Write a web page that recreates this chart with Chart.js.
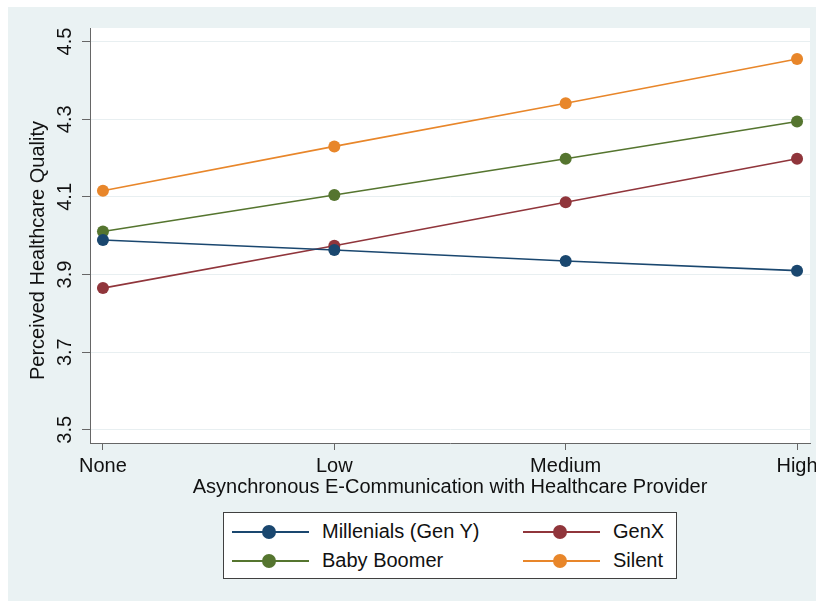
<!DOCTYPE html>
<html>
<head>
<meta charset="utf-8">
<script src="https://cdn.jsdelivr.net/npm/chart.js@4"></script>
<style>
  html, body { margin: 0; padding: 0; background: #fff; }
  #frame { position: absolute; left: 8px; top: 7px; width: 808px; height: 594px; background: #eaf2f3; }
  #chart-wrap { position: absolute; left: 0; top: 0; width: 808px; height: 594px; }
  #legend {
    position: absolute; left: 215px; top: 505px; width: 452px; height: 65px;
    background: #fff; border: 1px solid #404040;
    font-family: "Liberation Sans", Arial, sans-serif; font-size: 20px; color: #111;
  }
  .legend-key { position: absolute; width: 77px; height: 2px; }
  .legend-key::after {
    content: ""; position: absolute; left: 30px; top: -6px;
    width: 14px; height: 14px; border-radius: 50%; background: inherit;
  }
  .legend-label { position: absolute; line-height: 22px; white-space: nowrap; }
</style>
</head>
<body>
<div id="frame">
  <div id="chart-wrap"><canvas id="quality-chart"></canvas></div>
  <div id="legend"></div>
</div>
<script>
const levels = ["None", "Low", "Medium", "High"];
const yTicks = [3.5, 3.7, 3.9, 4.1, 4.3, 4.5];

const millenials = [3.989, 3.963, 3.935, 3.910];
const genX = [3.865, 3.974, 4.086, 4.198];
const babyBoomer = [4.011, 4.105, 4.198, 4.294];
const silent = [4.116, 4.230, 4.341, 4.455];

const seriesNames = ["Millenials (Gen Y)", "GenX", "Baby Boomer", "Silent"];
const seriesColors = ["#1a476f", "#90353b", "#55752f", "#e8862a"];
const seriesValues = [millenials, genX, babyBoomer, silent];

const yTitle = "Perceived Healthcare Quality";

Chart.defaults.font.family = '"Liberation Sans", Arial, sans-serif';

// white plot region on the bluish-gray page
const plotBackground = {
  id: "plotBackground",
  beforeDraw(chart) {
    const { ctx, chartArea } = chart;
    ctx.save();
    ctx.fillStyle = "#fff";
    ctx.fillRect(chartArea.left, chartArea.top, chartArea.right - chartArea.left, chartArea.bottom - chartArea.top);
    ctx.restore();
  },
};

// vertical axis title, sitting a little below the plot's middle
const yAxisTitle = {
  id: "yAxisTitle",
  afterDraw(chart) {
    const { ctx, chartArea } = chart;
    ctx.save();
    ctx.translate(30, (chartArea.top + chartArea.bottom) / 2 + 15);
    ctx.rotate(-Math.PI / 2);
    ctx.font = '20px "Liberation Sans", Arial, sans-serif';
    ctx.fillStyle = "#111";
    ctx.textAlign = "center";
    ctx.textBaseline = "middle";
    ctx.fillText(yTitle, 0, 0);
    ctx.restore();
  },
};

function buildDatasets() {
  return seriesValues.map((values, i) => ({
    label: seriesNames[i],
    data: values.map((v, x) => ({ x, y: v })),
    borderColor: seriesColors[i],
    backgroundColor: seriesColors[i],
    pointBackgroundColor: seriesColors[i],
    pointBorderWidth: 0,
    pointRadius: 6,
    borderWidth: 1.6,
    tension: 0,
  }));
}

function renderLegend() {
  const box = document.querySelector("#legend");
  const slots = [
    { key: 8, text: 98, row: 18 },
    { key: 299, text: 389, row: 18 },
    { key: 8, text: 98, row: 47 },
    { key: 299, text: 389, row: 47 },
  ];
  seriesNames.forEach((name, i) => {
    const slot = slots[i];
    const key = document.createElement("span");
    key.className = "legend-key";
    key.style.left = `${slot.key}px`;
    key.style.top = `${slot.row}px`;
    key.style.background = seriesColors[i];
    box.appendChild(key);

    const label = document.createElement("span");
    label.className = "legend-label";
    label.style.left = `${slot.text}px`;
    label.style.top = `${slot.row - 11}px`;
    label.textContent = name;
    box.appendChild(label);
  });
}

new Chart(document.querySelector("#quality-chart"), {
  type: "line",
  data: { datasets: buildDatasets() },
  plugins: [plotBackground, yAxisTitle],
  options: {
    responsive: true,
    maintainAspectRatio: false,
    animation: false,
    layout: { padding: { top: 21, right: 5, left: 0, bottom: 102 } },
    plugins: { legend: { display: false }, tooltip: { enabled: false } },
    scales: {
      x: {
        type: "linear",
        min: -0.056,
        max: 3.056,
        afterBuildTicks: (scale) => {
          scale.ticks = levels.map((_, i) => ({ value: i }));
        },
        afterFit: (scale) => {
          scale.height = 56;
          scale.paddingLeft = 0;
          scale.paddingRight = 0;
        },
        ticks: {
          callback: (v) => levels[v],
          autoSkip: false,
          maxRotation: 0,
          padding: 4,
          color: "#111",
          font: { size: 20 },
        },
        grid: { drawOnChartArea: false, tickLength: 7, tickColor: "#666" },
        border: { color: "#666", width: 1 },
        title: {
          display: true,
          text: "Asynchronous E-Communication with Healthcare Provider",
          color: "#111",
          font: { size: 20 },
          padding: { top: 0, bottom: 0 },
        },
      },
      y: {
        min: 3.466,
        max: 4.535,
        afterBuildTicks: (scale) => {
          scale.ticks = yTicks.map((v) => ({ value: v }));
        },
        afterFit: (scale) => {
          scale.width = 82;
        },
        ticks: {
          callback: (v) => Number(v).toFixed(1),
          minRotation: 90,
          maxRotation: 90,
          crossAlign: "center",
          padding: 3,
          color: "#111",
          font: { size: 20 },
        },
        grid: { color: "#e8eff1", tickLength: 8, tickColor: "#666" },
        border: { color: "#666", width: 1 },
      },
    },
  },
});

renderLegend();
</script>
</body>
</html>
